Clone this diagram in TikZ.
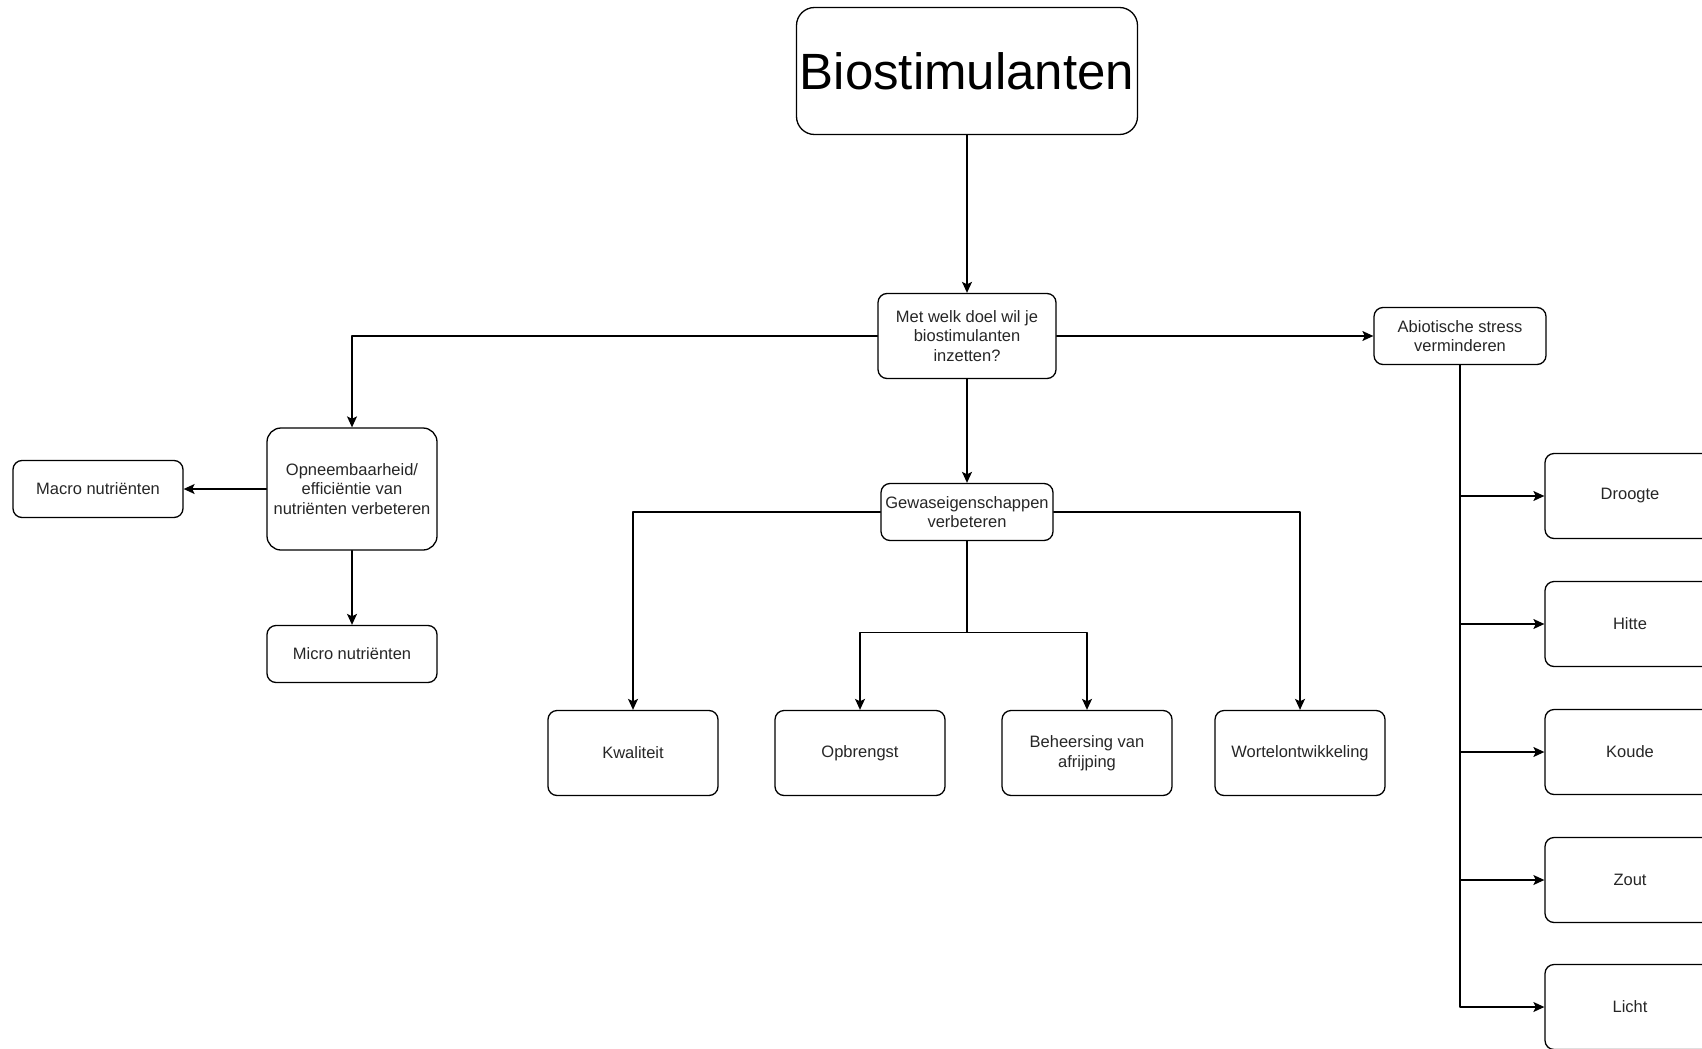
\documentclass[tikz,border=0pt]{standalone}
\usepackage{fontspec}
\setmainfont{Liberation Sans}
\usetikzlibrary{arrows.meta}

\tikzset{
  vak/.style={draw, line width=1.3pt, rounded corners=9pt, align=center, inner sep=1pt,
    font=\fontsize{16.5}{19.5}\selectfont, text=black!85},
  klein/.style={vak, minimum width=170pt, minimum height=57pt},
  groot/.style={vak, minimum width=170pt, minimum height=85pt},
  pijl/.style={->, line width=1.3pt},
}

\begin{document}
\begin{tikzpicture}[line cap=round,line join=round,>={Stealth[length=11pt,width=10pt,inset=2.5pt]},x=1pt,y=-1pt]

\clip (0,0) rectangle (1702,1049);
\node[vak, minimum width=341pt, minimum height=127pt, rounded corners=18pt,
  font=\fontsize{51}{60}\selectfont, text=black] (bio) at (967,71) {\raisebox{-3pt}{Biostimulanten}};
\node[vak, minimum width=178pt, minimum height=85pt] (doel) at (967,336) {Met welk doel wil je\\biostimulanten\\inzetten?};
\node[klein, minimum width=172pt] (abio) at (1460,336) {Abiotische stress\\verminderen};
\node[vak, minimum width=170pt, minimum height=122pt, rounded corners=14pt] (opneem) at (352,489) {Opneembaarheid/\\effici\"entie van\\nutri\"enten verbeteren};
\node[klein] (macro) at (98,489) {Macro nutri\"enten};
\node[klein] (micro) at (352,654) {Micro nutri\"enten};
\node[klein, minimum width=172pt] (gewas) at (967,512) {Gewaseigenschappen\\verbeteren};
\node[groot] (kwal) at (633,753) {Kwaliteit};
\node[groot] (opbr) at (860,753) {Opbrengst};
\node[groot] (beheer) at (1087,753) {Beheersing van\\afrijping};
\node[groot] (wortel) at (1300,753) {Wortelontwikkeling};
\node[groot] (droog) at (1630,496) {Droogte};
\node[groot] (hitte) at (1630,624) {Hitte};
\node[groot] (koude) at (1630,752) {Koude};
\node[groot] (zout) at (1630,880) {Zout};
\node[groot] (licht) at (1630,1007) {Licht};

\draw[pijl] (bio) -- (doel);
\draw[pijl] (doel) -- (abio);
\draw[pijl] (doel.west) -| (opneem);
\draw[pijl] (doel) -- (gewas);
\draw[pijl] (opneem) -- (macro);
\draw[pijl] (opneem) -- (micro);
\draw[pijl] (gewas.west) -| (kwal);
\draw[pijl] (gewas.east) -| (wortel);
\draw[line width=1.3pt] (gewas.south) -- ++(0,91) coordinate (splits);
\draw[pijl] (splits) -| (opbr);
\draw[pijl] (splits) -| (beheer);
\draw[pijl] (abio.south) |- (droog);
\draw[pijl] (abio.south) |- (hitte);
\draw[pijl] (abio.south) |- (koude);
\draw[pijl] (abio.south) |- (zout);
\draw[pijl] (abio.south) |- (licht);
\end{tikzpicture}
\end{document}
